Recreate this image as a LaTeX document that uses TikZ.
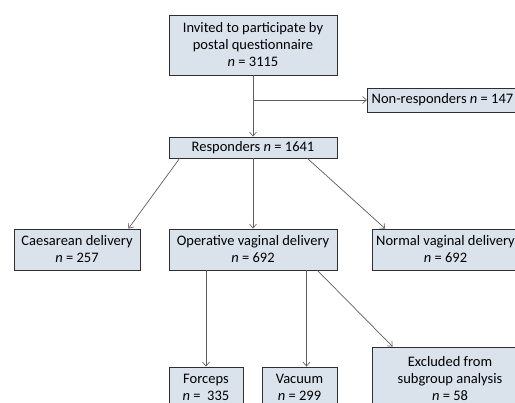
\documentclass[tikz,border=0pt]{standalone}
\usepackage{fontspec}
\setmainfont{Carlito}
\usetikzlibrary{arrows.meta,calc}
\definecolor{boxfill}{HTML}{DAE3EC}
\definecolor{boxline}{HTML}{2E2E2E}
\definecolor{linkline}{HTML}{5E5E5E}
\newcommand{\nn}{\textit{n}}
\tikzset{
  flowbox/.style={draw=boxline, line width=0.9pt, fill=boxfill, inner sep=2pt,
    align=center, font=\fontsize{14.5}{17}\selectfont},
  link/.style={draw=linkline, line width=0.7pt,
    -{Straight Barb[length=4pt,width=7pt,line width=0.6pt]}}
}
\begin{document}
\begin{tikzpicture}[x=1pt,y=-1pt]
\useasboundingbox (0,0) rectangle (515,403);
\clip (0,0) rectangle (515,403);
\fill[white] (0,0) rectangle (515,403);

% boxes (sizes in pt, centres given directly)
\node[flowbox, minimum width=168pt, minimum height=60pt] (inv) at (253,45)
  {Invited to participate by\\postal questionnaire\\\nn{} = 3115};
\node[flowbox, minimum width=168pt, minimum height=21pt] (resp) at (253,147.5)
  {Responders \nn{} = 1641};
\node[flowbox, minimum width=170pt, minimum height=24pt, anchor=west, align=left,
  inner xsep=4pt] (nonr) at (367,100) {Non-responders \nn{} = 147\hspace{20pt}};
\node[flowbox, minimum width=126pt, minimum height=41pt] (cae) at (77,249.5)
  {Caesarean delivery\\\nn{} = 257};
\node[flowbox, minimum width=168pt, minimum height=41pt] (op) at (253,249.5)
  {Operative vaginal delivery\\\nn{} = 692};
\node[flowbox, minimum width=146pt, minimum height=41pt] (norm) at (445.5,249.5)
  {Normal vaginal delivery\\\nn{} = 692};
\node[flowbox, minimum width=74pt, minimum height=40pt] (forc) at (206,387)
  {Forceps\\\nn{} =\ \ 335};
\node[flowbox, minimum width=75pt, minimum height=40pt] (vac) at (299.5,387)
  {Vacuum\\\nn{} = 299};
\node[flowbox, minimum width=156pt, minimum height=63pt] (excl) at (450,378.5)
  {Excluded from\\subgroup analysis\\\nn{} = 58};

% connectors
\coordinate (split) at (inv.south |- nonr.west);
\coordinate (vacin) at ([xshift=7pt]vac.north);
\draw[link] (inv.south) -- (resp.north);
\draw[link] (split) -- (nonr.west);
\draw[link] ([xshift=11pt]resp.south west) -- ([xshift=-12pt]cae.north east);
\draw[link] (resp.south) -- (op.north);
\draw[link] ([xshift=-30pt]resp.south east) -- ([xshift=13pt]norm.north west);
\draw[link] (op.south -| forc.north) -- (forc.north);
\draw[link] (op.south -| vacin) -- (vacin);
\draw[link] ([xshift=-20pt]op.south east) -- ([xshift=21pt]excl.north west);
\end{tikzpicture}
\end{document}
